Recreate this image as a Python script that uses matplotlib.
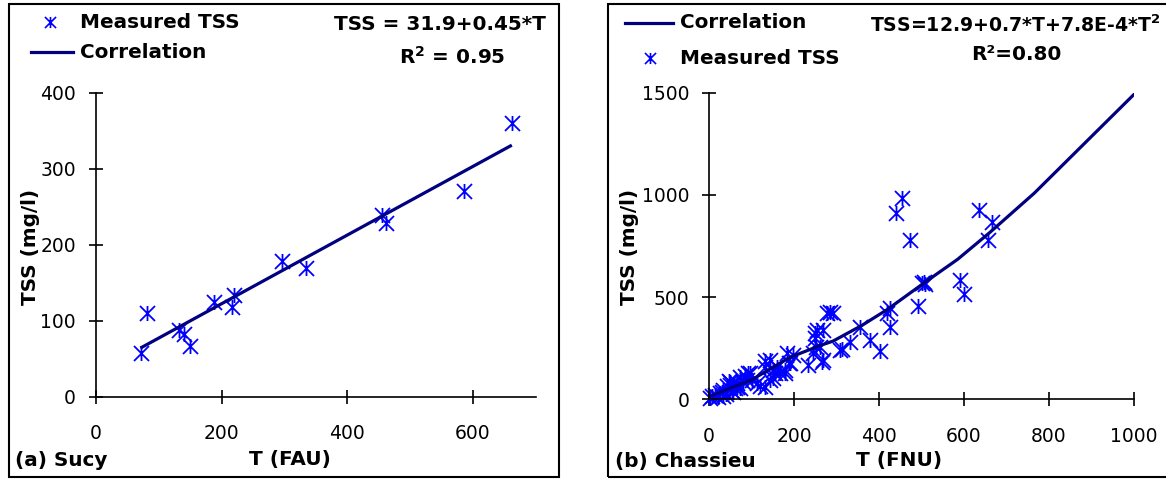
import matplotlib
matplotlib.use("Agg")
import matplotlib.pyplot as plt
from matplotlib.path import Path
from matplotlib.lines import Line2D
from matplotlib.patches import Rectangle

# (a) Sucy - measured turbidity (FAU) and TSS (mg/l)
t_sucy = [72, 82, 132, 140, 149, 188, 217, 220, 296, 334, 455, 462, 586, 663]
tss_sucy = [57, 110, 88, 82, 67, 125, 118, 134, 179, 169, 239, 229, 271, 360]
# correlation line
t_sucy_fit = [73, 660]
tss_sucy_fit = [65, 330]

# (b) Chassieu - measured turbidity (FNU) and TSS (mg/l)
t_chas = [3, 8, 14, 20, 26, 30, 34, 34, 40, 42, 46, 49, 50, 55, 57, 61, 65, 65,
          73, 73, 81, 85, 89, 92, 97, 100, 112, 120, 132, 132, 132, 143, 144,
          151, 151, 155, 159, 167, 179, 179, 183, 187, 191, 198, 232, 245, 249,
          249, 251, 253, 261, 265, 269, 269, 277, 285, 292, 308, 312, 332, 355,
          379, 402, 418, 426, 426, 441, 453, 473, 492, 500, 505, 508, 591, 600,
          636, 657, 665]
tss_chas = [5, 15, 22, 10, 30, 38, 47, 15, 25, 63, 90, 86, 71, 40, 38, 55, 62, 79,
            54, 111, 87, 112, 95, 128, 128, 95, 79, 63, 62, 160, 185, 193, 95,
            103, 144, 128, 160, 128, 127, 144, 225, 176, 176, 217, 168, 225, 298,
            323, 258, 339, 258, 184, 193, 339, 421, 429, 421, 242, 245, 282, 356,
            290, 236, 421, 445, 356, 910, 983, 779, 455, 570, 575, 565, 584, 515,
            926, 779, 869]
# correlation line
t_chas_fit = [0, 100, 190, 260, 292, 360, 420, 505, 585, 660, 765, 1000]
tss_chas_fit = [13, 95, 205, 262, 285, 362, 440, 568, 685, 815, 1008, 1492]

# asterisk marker: vertical bar plus an X
star = Path([(0, -1), (0, 1), (-1, -1), (1, 1), (-1, 1), (1, -1)],
            [Path.MOVETO, Path.LINETO, Path.MOVETO, Path.LINETO, Path.MOVETO, Path.LINETO])

blue = "#0000FF"
navy = "#000080"

fig = plt.figure(figsize=(11.66, 4.8), dpi=100)


def style_axes(ax):
    for s in ["top", "right"]:
        ax.spines[s].set_visible(False)
    for s in ["left", "bottom"]:
        ax.spines[s].set_linewidth(1.2)
    ax.tick_params(direction="inout", length=9.6, width=1.2, labelsize=13.5)
    ax.tick_params(axis="x", pad=15)
    ax.tick_params(axis="y", pad=9.5)


# left panel
ax1 = fig.add_axes([0.0823, 0.1735, 0.3770, 0.6333])
ax1.plot(t_sucy, tss_sucy, linestyle="none", marker=star, markersize=10.8,
         markeredgewidth=1.3, color=blue, clip_on=False)
ax1.plot(t_sucy_fit, tss_sucy_fit, color=navy, linewidth=2.3)
ax1.set_xlim(0, 700)
ax1.set_ylim(0, 400)
ax1.set_xticks([0, 200, 400, 600])
ax1.set_yticks([0, 100, 200, 300, 400])
style_axes(ax1)
ax1.set_xlabel("T (FAU)", fontsize=14.4, fontweight="bold", va="center")
ax1.xaxis.set_label_coords(0.441, -0.205)
ax1.set_ylabel("TSS (mg/l)", fontsize=14.4, fontweight="bold", va="center")
ax1.yaxis.set_label_coords(-0.150, 0.492)

# right panel
ax2 = fig.add_axes([0.6081, 0.1681, 0.3645, 0.6388])
ax2.plot(t_chas, tss_chas, linestyle="none", marker=star, markersize=10.8,
         markeredgewidth=1.3, color=blue, clip_on=False)
ax2.plot(t_chas_fit, tss_chas_fit, color=navy, linewidth=2.3)
ax2.set_xlim(0, 1000)
ax2.set_ylim(0, 1500)
ax2.set_xticks([0, 200, 400, 600, 800, 1000])
ax2.set_yticks([0, 500, 1000, 1500])
style_axes(ax2)
ax2.set_xlabel("T (FNU)", fontsize=14.4, fontweight="bold", va="center")
ax2.xaxis.set_label_coords(0.447, -0.201)
ax2.set_ylabel("TSS (mg/l)", fontsize=14.4, fontweight="bold", va="center")
ax2.yaxis.set_label_coords(-0.186, 0.497)

# panel frames
W, H = 1166.0, 480.0
fig.add_artist(Rectangle((9 / W, 1 - 477 / H), 550 / W, 473 / H, transform=fig.transFigure,
                         fill=False, edgecolor="black", linewidth=1.5))
fig.add_artist(Rectangle((608 / W, 1 - 477 / H), 570 / W, 473 / H, transform=fig.transFigure,
                         fill=False, edgecolor="black", linewidth=1.5))

# legends (drawn by hand to keep the original layout)
def key_marker(x, y):
    fig.add_artist(Line2D([x / W], [1 - y / H], transform=fig.transFigure, linestyle="none",
                          marker=star, markersize=8, markeredgewidth=1.2, color=blue))


def key_line(x0, x1, y):
    fig.add_artist(Line2D([x0 / W, x1 / W], [1 - y / H, 1 - y / H], transform=fig.transFigure,
                          color=navy, linewidth=2.3))


txt = dict(fontsize=14.4, fontweight="bold", va="center")
key_marker(50, 22)
fig.text(80 / W, 1 - 22 / H, "Measured TSS", ha="left", **txt)
key_line(31, 73, 52)
fig.text(80 / W, 1 - 52 / H, "Correlation", ha="left", **txt)

key_line(625, 673, 23)
fig.text(680 / W, 1 - 23 / H, "Correlation", ha="left", **txt)
key_marker(650, 58)
fig.text(680 / W, 1 - 58 / H, "Measured TSS", ha="left", **txt)

# equations
fig.text(440 / W, 1 - 25 / H, "TSS = 31.9+0.45*T", ha="center", **txt)
fig.text(452 / W, 1 - 57 / H, r"R$^{\mathbf{2}}$ = 0.95", ha="center", **txt)
fig.text(1160 / W, 1 - 25 / H, r"TSS=12.9+0.7*T+7.8E-4*T$^{\mathbf{2}}$", ha="right",
         fontsize=13.6, fontweight="bold", va="center")
fig.text(1016 / W, 1 - 55 / H, "R²=0.80", ha="center", **txt)

# panel names
fig.text(15 / W, 1 - 460 / H, "(a) Sucy", ha="left", **txt)
fig.text(615 / W, 1 - 461 / H, "(b) Chassieu", ha="left", **txt)

plt.savefig("out.png", dpi=100)
